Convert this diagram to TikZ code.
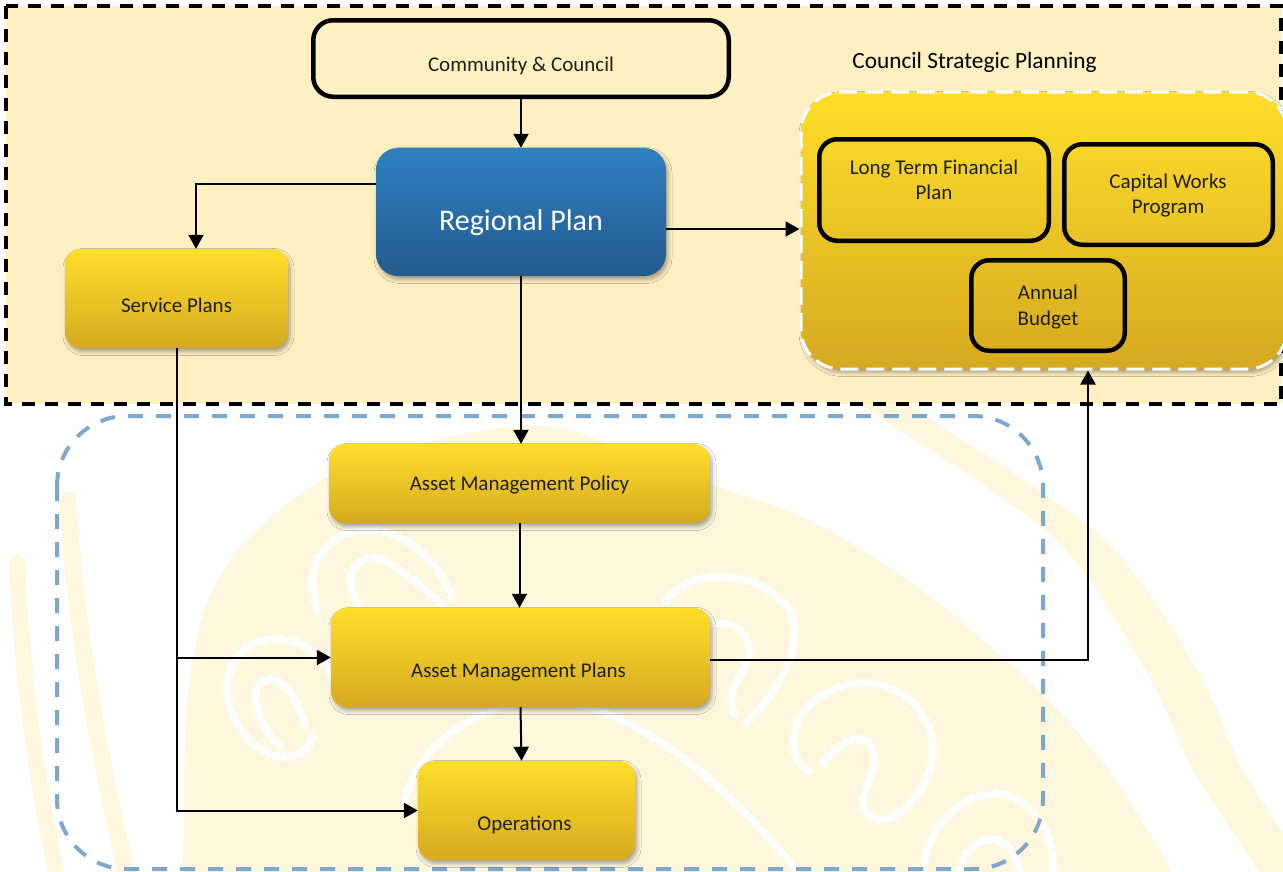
\documentclass[tikz,border=0pt]{standalone}
\usepackage{fontspec}
\setmainfont{Carlito}
\usetikzlibrary{arrows.meta,shadows.blur,calc}
\definecolor{topfill}{HTML}{FFF0C2}
\definecolor{wmark}{HTML}{FFF7DD}
\definecolor{ytop}{HTML}{FFDF2A}
\definecolor{ybot}{HTML}{D5A920}
\definecolor{btop}{HTML}{2F80C2}
\definecolor{bbot}{HTML}{235B8D}
\definecolor{dashblue}{HTML}{7DA8CB}
\definecolor{txtc}{HTML}{1E1E1E}
\begin{document}
\begin{tikzpicture}[x=1pt,y=-1pt,
  softshadow/.style={blur shadow={shadow xshift=2pt,shadow yshift=-3.5pt,shadow blur radius=4pt,shadow opacity=35}},
  ybox/.style={rectangle, rounded corners=16pt, top color=ytop, bottom color=ybot, draw=none, inner sep=0pt, softshadow},
  bbox/.style={rectangle, rounded corners=22pt, top color=btop, bottom color=bbot, draw=none, inner sep=0pt, softshadow},
  kbox/.style={rectangle, rounded corners=18pt, draw=black, line width=4.5pt, inner sep=0pt},
  lbl/.style={font=\fontsize{21}{25.6}\selectfont, text=txtc, inner sep=0pt, align=center},
  arr/.style={draw=black, line width=2pt, -{Triangle[length=14pt,width=15pt]}},
  dots/.style={draw=white, line width=9pt, line cap=round, dash pattern=on 0pt off 7.5pt},
  wmband/.style={draw=wmark, line cap=round}
]
\clip (0,0) rectangle (1283,871);
\fill[white] (0,0) rectangle (1283,871);

% ---- watermark ----
\fill[wmark] plot[smooth] coordinates {(181,900) (183,871) (187,704) (207,604) (250,537) (330,476) (450,437) (560,428) (700,481) (811,521) (923,591) (1035,687) (1109,771) (1172,871) (1190,900)} -- cycle;
\fill[wmark] plot[smooth] coordinates {(830,380) (860,404) (1053,537) (1146,671) (1194,771) (1258,871) (1268,900)}
  -- plot[smooth] coordinates {(1330,900) (1310,871) (1243,771) (1198,671) (1101,537) (908,404) (880,380)} -- cycle;
\draw[wmband, line width=16pt] (17,563) .. controls (22,680) and (38,790) .. (58,880);
\draw[wmband, line width=17pt] (68,500) .. controls (74,620) and (100,760) .. (128,880);
% spirals
\draw[dots] (317,608) .. controls (300,560) and (335,528) .. (370,530) .. controls (410,532) and (440,565) .. (452,598);
\draw[dots] (357,603) .. controls (340,575) and (360,550) .. (383,560) .. controls (405,570) and (425,592) .. (443,604);
\draw[dots] (312,737) .. controls (305,770) and (245,765) .. (228,700) .. controls (220,650) and (265,628) .. (300,644) .. controls (318,652) and (328,665) .. (333,680);
\draw[dots] (305,725) .. controls (295,690) and (275,668) .. (258,685) .. controls (250,700) and (262,735) .. (285,750);
\draw[dots] (666,601) .. controls (690,565) and (760,570) .. (790,610) .. controls (805,645) and (780,690) .. (745,724);
\draw[dots] (712,624) .. controls (740,618) and (757,645) .. (746,665) .. controls (735,685) and (725,700) .. (736,716);
\draw[dots] (808,771) .. controls (780,750) and (790,700) .. (850,684) .. controls (900,675) and (945,720) .. (930,770) .. controls (915,810) and (880,835) .. (865,810) .. controls (855,790) and (885,770) .. (870,745) .. controls (860,730) and (835,745) .. (823,764);
\draw[dots] (923,875) .. controls (925,820) and (970,790) .. (1000,794) .. controls (1035,800) and (1055,835) .. (1053,875);
\draw[dots] (960,875) .. controls (962,845) and (985,835) .. (1000,841) .. controls (1012,846) and (1018,860) .. (1020,875);
\draw[dots] (405,800) .. controls (420,740) and (480,705) .. (540,700) .. controls (640,700) and (740,800) .. (800,875);

% ---- top region ----
\fill[topfill] (6,6) rectangle (1281.5,404);
\draw[black, line width=4.5pt, dash pattern=on 13pt off 10pt] (6,6) rectangle (1281.5,404);

% ---- lower dashed region ----
\draw[dashblue, line width=4pt, dash pattern=on 15pt off 13pt, rounded corners=70pt] (57,416) rectangle (1043,869);

% ---- strategic planning box ----
\node[rectangle, rounded corners=40pt, top color=ytop, bottom color=ybot, draw=white, line width=3pt, dash pattern=on 18pt off 8pt, inner sep=0pt, minimum width=486pt, minimum height=277pt, softshadow] (csp) at (1044,230.5) {};
\node[font=\fontsize{23.3}{28}\selectfont, text=black, inner sep=0pt, anchor=base] (csptitle) at (974.5,68.3) {Council Strategic Planning};

\node[kbox, minimum width=229.5pt, minimum height=101.5pt] (ltfp) at (934,190) {};
\node[lbl] (ltfpt) at (934,181.9) {\strut Long Term Financial\\Plan\strut};
\node[kbox, minimum width=208.5pt, minimum height=100.5pt] (cwp) at (1168.5,194.5) {};
\node[lbl] (cwpt) at (1168,195.9) {\strut Capital Works\\Program\strut};
\node[kbox, minimum width=153.5pt, minimum height=90.5pt] (ab) at (1048,305.5) {};
\node[lbl] (abt) at (1048,307.4) {\strut Annual\\Budget\strut};

% ---- main boxes ----
\node[kbox, rounded corners=20pt, minimum width=415.5pt, minimum height=76.5pt] (cc) at (521,58.5) {};
\node[lbl, anchor=base] (cct) at (521,71) {Community \& Council};

\node[bbox, minimum width=290pt, minimum height=128pt] (rp) at (521,212) {};
\node[font=\fontsize{30}{36}\selectfont, text=white, inner sep=0pt, anchor=base] (rpt) at (521,230) {Regional Plan};

\node[ybox, minimum width=223pt, minimum height=99pt] (sp) at (176.5,298.5) {};
\node[lbl, anchor=base] (spt) at (176.5,312.7) {Service Plans};

\node[ybox, minimum width=381pt, minimum height=79pt] (amp) at (519.5,483.5) {};
\node[lbl, anchor=base] (ampt) at (519.5,490.7) {Asset Management Policy};

\node[ybox, minimum width=379pt, minimum height=99pt] (ampl) at (520.5,657.5) {};
\node[lbl, anchor=base] (amplt) at (518.5,677) {Asset Management Plans};

\node[ybox, minimum width=217pt, minimum height=99pt] (ops) at (526.5,810.5) {};
\node[lbl, anchor=base] (opst) at (524.5,830.7) {Operations};

% ---- connectors ----
\draw[arr] (cc.south) -- (rp.north);
\draw[arr] ([yshift=28pt]rp.west) -| ([xshift=19.5pt]sp.north);
\draw[arr] ([yshift=-17pt]rp.east) -- ([yshift=-17pt]rp.east -| csp.west);
\draw[arr] (rp.south) -- (rp.south |- amp.north);
\draw[arr] (amp.south) -- (amp.south |- ampl.north);
\draw[arr] (ampl.south) -- ([xshift=-5pt]ops.north);
\draw[arr] (sp.south) |- (ops.west);
\draw[arr] (sp.south |- ampl.west) -- (ampl.west);
\draw[arr] ([yshift=-2.5pt]ampl.east) -| ([xshift=44pt]csp.south);
\end{tikzpicture}
\end{document}
